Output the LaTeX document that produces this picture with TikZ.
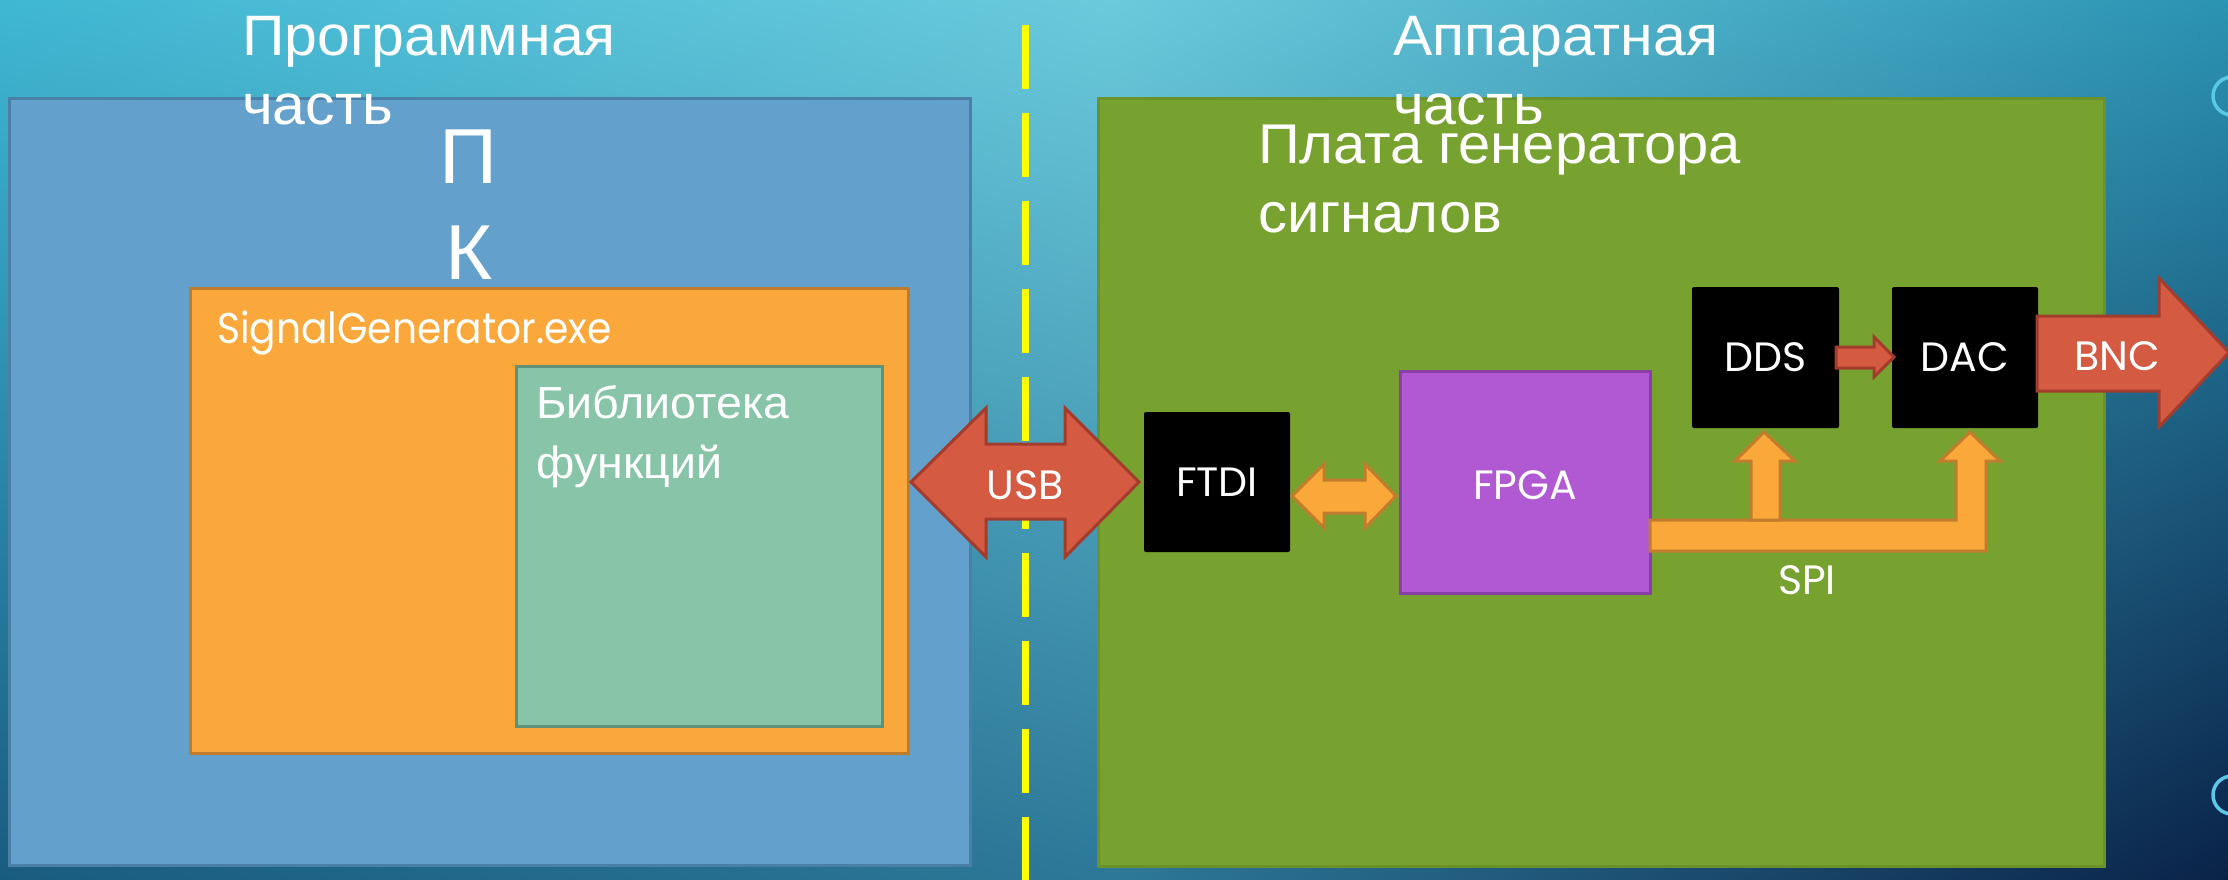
\documentclass[tikz,border=0pt]{standalone}
\usepackage{fontspec}
\usetikzlibrary{shadings}
\setmainfont[FakeStretch=1.035]{Liberation Sans}
\newfontfamily\gothic{Poppins}
\newfontfamily\gothicnarrow[FakeStretch=0.91]{Poppins}
\definecolor{bgUL}{HTML}{3FB7D3}
\definecolor{bgTM}{HTML}{6BCADC}
\definecolor{bgUR}{HTML}{2B93B3}
\definecolor{bgLL}{HTML}{195C80}
\definecolor{bgBM}{HTML}{2D7898}
\definecolor{bgLR}{HTML}{0A2248}
\definecolor{pcfill}{HTML}{63A0CB}
\definecolor{pcline}{HTML}{4A7FA6}
\definecolor{exefill}{HTML}{FAA83B}
\definecolor{exeline}{HTML}{BE7B2E}
\definecolor{libfill}{HTML}{88C4A8}
\definecolor{libline}{HTML}{5F9178}
\definecolor{brdfill}{HTML}{78A22F}
\definecolor{brdline}{HTML}{6B922A}
\definecolor{fpgafill}{HTML}{B059D2}
\definecolor{fpgaline}{HTML}{8A3FA8}
\definecolor{redfill}{HTML}{D45A42}
\definecolor{redline}{HTML}{A23D2D}
\definecolor{orfill}{HTML}{FBA83A}
\definecolor{orline}{HTML}{C17D2D}
\definecolor{ringc}{HTML}{5CC8E8}
\definecolor{divyellow}{HTML}{FFFF00}
\begin{document}
\begin{tikzpicture}[x=1pt,y=-1pt,
  panel/.style={anchor=north west, inner sep=0pt, outer sep=0pt, line width=3pt},
  chip/.style={anchor=north west, fill=black, rounded corners=2pt, inner sep=0pt, outer sep=0pt,
    text=white, font=\gothic\fontsize{41}{41}\selectfont},
  blockred/.style={fill=redfill, draw=redline, line width=3pt, line join=miter},
  blockor/.style={fill=orfill, draw=orline, line width=3pt, line join=miter},
  ttl/.style={anchor=base west, inner sep=0pt, text=white, font=\fontsize{57}{69}\selectfont},
  ttlb/.style={anchor=base west, inner sep=0pt, text=white, font=\fontsize{56}{69}\selectfont},
  pktext/.style={anchor=base, inner sep=0pt, text=white, font=\fontsize{78}{96}\selectfont},
  libtext/.style={anchor=base west, inner sep=0pt, text=white, font=\fontsize{45}{60}\selectfont},
  exetext/.style={anchor=base west, inner sep=0pt, text=white, font=\gothicnarrow\fontsize{43}{43}\selectfont},
  lbl/.style={anchor=base, inner sep=0pt, text=white, font=\gothic\fontsize{41}{41}\selectfont},
  ring/.style={circle, draw=ringc, line width=3.5pt, minimum size=38pt, inner sep=0pt}
]
\clip (0,0) rectangle (2228,879);
% background
\shade[upper left=bgUL, upper right=bgTM, lower left=bgLL, lower right=bgBM] (0,0) rectangle (1114.5,879);
\shade[upper left=bgTM, upper right=bgUR, lower left=bgBM, lower right=bgLR] (1114,0) rectangle (2228,879);
\node[ring] (ring1) at (2232,96) {};
\node[ring] (ring2) at (2232,795) {};

% divider
\coordinate (divtop) at (1025,25);
\coordinate (divbot) at (1025,890);
\draw[divyellow, line width=7pt, dash pattern=on 64pt off 24pt] (divtop) -- (divbot);

% panels
\node[panel, draw=pcline, fill=pcfill, minimum width=961pt, minimum height=767pt] (pc) at (9,98) {};
\node[panel, draw=exeline, fill=exefill, minimum width=718pt, minimum height=465pt] (exe) at (190,288) {};
\node[panel, draw=libline, fill=libfill, minimum width=366pt, minimum height=360pt] (lib) at (516,366) {};
\node[panel, draw=brdline, fill=brdfill, minimum width=1006pt, minimum height=768pt] (board) at (1098,98) {};

% chips
\node[chip, minimum width=146pt, minimum height=140pt] (ftdi) at (1144,412) {FTDI};
\node[panel, draw=fpgaline, fill=fpgafill, minimum width=250pt, minimum height=222pt] (fpga) at (1400,371) {};
\node[chip, minimum width=147pt, minimum height=141pt] (dds) at (1692,287) {DDS};
\node[chip, minimum width=146pt, minimum height=141pt] (dac) at (1892,287) {DAC};

% block arrows
\draw[blockred] (911,482) -- (986,408) -- (986,444) -- (1065,444) -- (1065,408) -- (1139,482)
  -- (1065,557) -- (1065,519) -- (986,519) -- (986,557) -- cycle;
\draw[blockor] (1292,496) -- (1324,464) -- (1324,480) -- (1365,480) -- (1365,464) -- (1396,496)
  -- (1365,528) -- (1365,513) -- (1324,513) -- (1324,528) -- cycle;
\draw[blockred] (1836,347) -- (1874,347) -- (1874,337) -- (1894,357) -- (1874,377) -- (1874,368)
  -- (1836,368) -- cycle;
\draw[blockred] (2037,316) -- (2159,316) -- (2159,278) -- (2229,352.5) -- (2159,427) -- (2159,391)
  -- (2037,391) -- cycle;
\draw[blockor] (1650,520) -- (1956,520) -- (1956,461) -- (1940,461) -- (1970,432) -- (2000,461)
  -- (1986,461) -- (1986,551) -- (1650,551) -- cycle;
\draw[blockor] (1751,520) -- (1751,461) -- (1735,461) -- (1764,432) -- (1795,461) -- (1780,461)
  -- (1780,520) -- cycle;

% texts
\node[ttl] (t1a) at (242,55) {Программная};
\node[ttl] (t1b) at (242,124) {часть};
\node[pktext] (pk1) at (469,183) {П};
\node[pktext] (pk2) at (469,279) {К};
\node[ttl] (t2a) at (1393,55) {Аппаратная};
\node[ttl] (t2b) at (1393,124) {часть};
\node[ttlb] (t3a) at (1258,163) {Плата генератора};
\node[ttlb] (t3b) at (1258,232) {сигналов};
\node[exetext] (exeT) at (217,343) {SignalGenerator.exe};
\node[libtext] (libA) at (536,418) {Библиотека};
\node[libtext] (libB) at (536,478) {функций};
\node[lbl] (usbT) at (1025,499) {USB};
\node[lbl] (fpgaT) at (1525,499) {FPGA};
\node[lbl] (bncT) at (2117,370) {BNC};
\node[lbl] (spiT) at (1807,594) {SPI};
\end{tikzpicture}
\end{document}
